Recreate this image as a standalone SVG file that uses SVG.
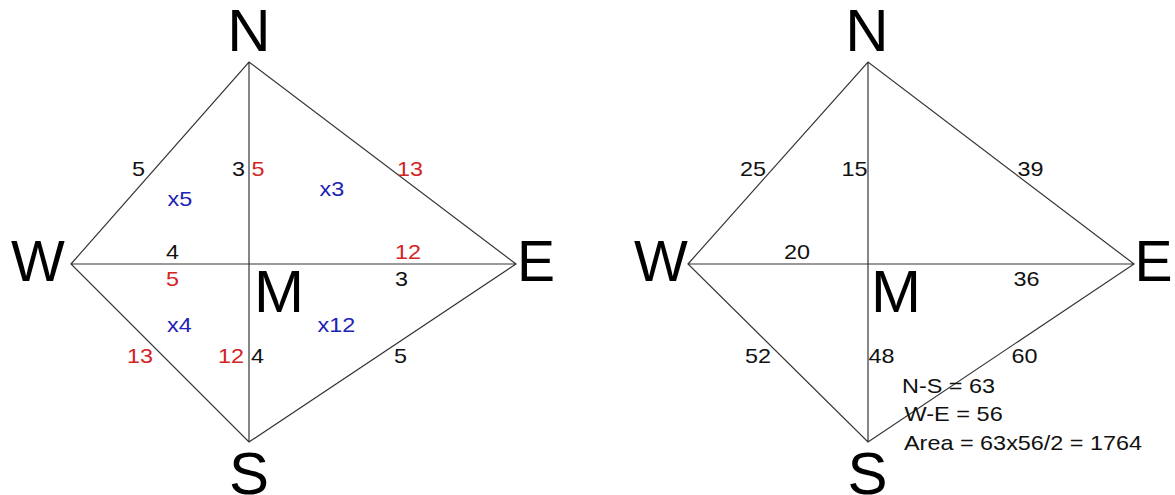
<svg xmlns="http://www.w3.org/2000/svg" width="1175" height="495" viewBox="0 0 1175 495">
<style>
.big{font-family:"Liberation Sans",Arial,sans-serif;font-size:60px;fill:#000}
.bw{font-size:57px}
.s{font-family:"Liberation Sans",Arial,sans-serif;font-size:21px;fill:#111}
.r{fill:#d42424}
.b{fill:#2222b4}
.ln{stroke:#363636;stroke-width:1.2;fill:none}
</style>
<rect width="1175" height="495" fill="#fff"/>
<g id="connectors">
<path class="ln" d="M71,264 L249,62 L516,264 L249,442 Z M249,62 L249,442 M71,264 L516,264"/>
<path class="ln" d="M688,264 L868,62 L1134,264 L868,442 Z M868,62 L868,442 M688,264 L1134,264"/>
</g>
<g id="left">
<text id="lN" class="big" x="249" y="51" text-anchor="middle">N</text>
<text id="lW" class="big bw" x="11" y="281">W</text>
<text id="lE" class="big bw" x="517" y="281">E</text>
<text id="lS" class="big" x="249" y="493.5" text-anchor="middle">S</text>
<text id="lM" class="big" x="254" y="312">M</text>
<g id="left-labels">
<text class="s" x="132" y="176" textLength="13" lengthAdjust="spacingAndGlyphs">5</text>
<text class="s" x="232" y="176" textLength="13" lengthAdjust="spacingAndGlyphs">3</text>
<text class="s r" x="251.5" y="176" textLength="13" lengthAdjust="spacingAndGlyphs">5</text>
<text class="s r" x="397" y="175.5" textLength="26" lengthAdjust="spacingAndGlyphs">13</text>
<text class="s b" x="167.5" y="206" textLength="24.7" lengthAdjust="spacingAndGlyphs">x5</text>
<text class="s b" x="319.5" y="196" textLength="24.7" lengthAdjust="spacingAndGlyphs">x3</text>
<text class="s" x="166" y="258.5" textLength="13" lengthAdjust="spacingAndGlyphs">4</text>
<text class="s r" x="395" y="258.5" textLength="26" lengthAdjust="spacingAndGlyphs">12</text>
<text class="s r" x="166" y="285.5" textLength="13" lengthAdjust="spacingAndGlyphs">5</text>
<text class="s" x="395" y="285.5" textLength="13" lengthAdjust="spacingAndGlyphs">3</text>
<text class="s b" x="167" y="331.5" textLength="24.7" lengthAdjust="spacingAndGlyphs">x4</text>
<text class="s b" x="317.5" y="331.5" textLength="37.7" lengthAdjust="spacingAndGlyphs">x12</text>
<text class="s r" x="127" y="363" textLength="26" lengthAdjust="spacingAndGlyphs">13</text>
<text class="s r" x="218" y="363" textLength="26" lengthAdjust="spacingAndGlyphs">12</text>
<text class="s" x="251" y="363" textLength="13" lengthAdjust="spacingAndGlyphs">4</text>
<text class="s" x="394" y="362.5" textLength="13" lengthAdjust="spacingAndGlyphs">5</text>
</g>
</g>
<g id="right">
<text id="rN" class="big" x="867" y="51" text-anchor="middle">N</text>
<text id="rW" class="big bw" x="634" y="281">W</text>
<text id="rE" class="big bw" x="1134.5" y="281">E</text>
<text id="rS" class="big" x="867.5" y="493.5" text-anchor="middle">S</text>
<text id="rM" class="big" x="871" y="311.5">M</text>
<g id="right-labels">
<text class="s" x="740" y="176" textLength="26" lengthAdjust="spacingAndGlyphs">25</text>
<text class="s" x="841.5" y="176" textLength="26" lengthAdjust="spacingAndGlyphs">15</text>
<text class="s" x="1017.5" y="175.5" textLength="26" lengthAdjust="spacingAndGlyphs">39</text>
<text class="s" x="784" y="259" textLength="26" lengthAdjust="spacingAndGlyphs">20</text>
<text class="s" x="1013.5" y="286" textLength="26" lengthAdjust="spacingAndGlyphs">36</text>
<text class="s" x="745" y="363" textLength="26" lengthAdjust="spacingAndGlyphs">52</text>
<text class="s" x="868.5" y="363" textLength="26" lengthAdjust="spacingAndGlyphs">48</text>
<text class="s" x="1011.5" y="363" textLength="26" lengthAdjust="spacingAndGlyphs">60</text>
<text class="s" x="902" y="393" textLength="93" lengthAdjust="spacingAndGlyphs">N-S = 63</text>
<text class="s" x="904.5" y="421" textLength="98.2" lengthAdjust="spacingAndGlyphs">W-E = 56</text>
<text class="s" x="904" y="450" textLength="238.1" lengthAdjust="spacingAndGlyphs">Area = 63x56/2 = 1764</text>
</g>
</g>
</svg>
